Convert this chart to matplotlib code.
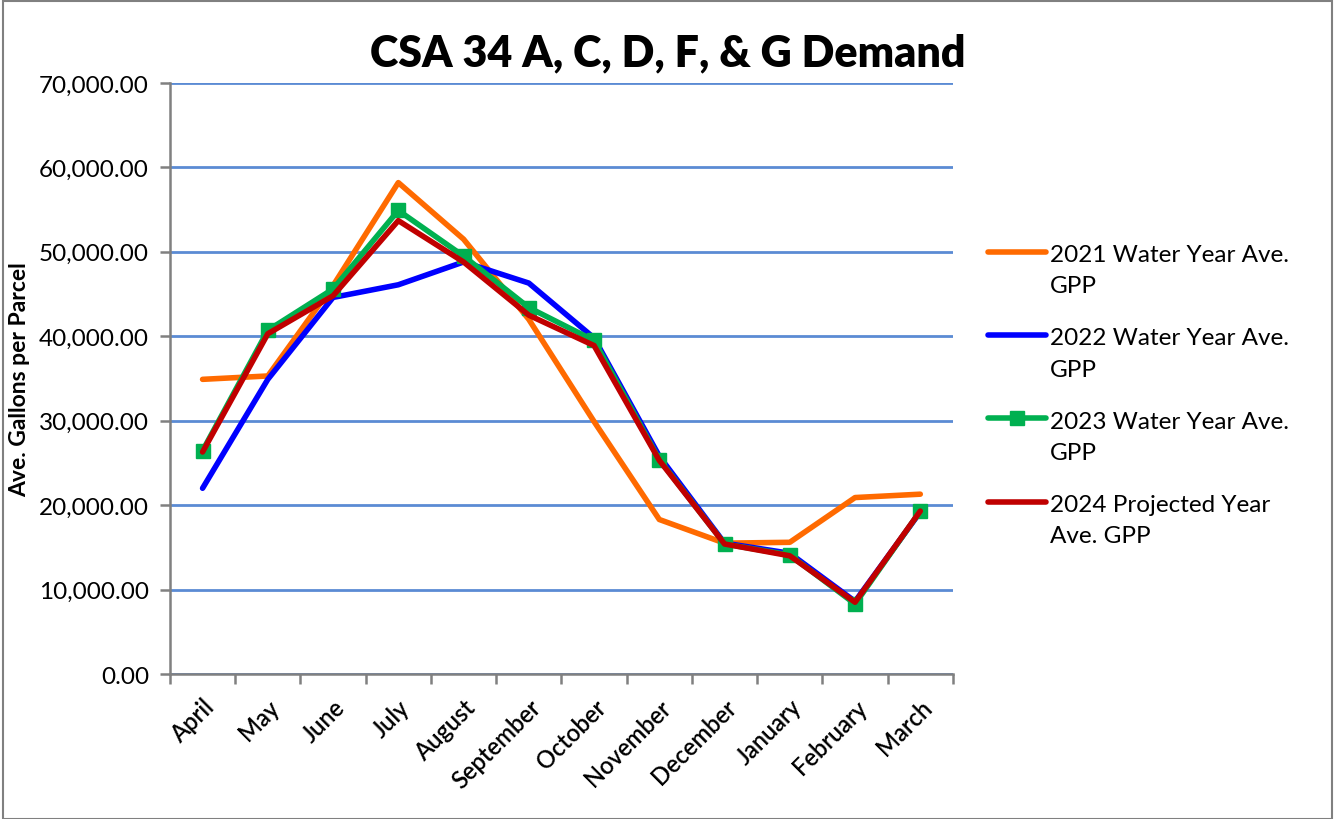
import numpy as np
import matplotlib
matplotlib.use("Agg")
import matplotlib.pyplot as plt
from matplotlib.patches import Rectangle
from matplotlib.ticker import FuncFormatter, MultipleLocator, FixedLocator
from matplotlib.legend_handler import HandlerLine2D

# --- Data ---
months = ["April", "May", "June", "July", "August", "September", "October",
          "November", "December", "January", "February", "March"]

gpp_2021 = [34900, 35300, 46000, 58200, 51500, 42000, 29900,
            18300, 15500, 15600, 20900, 21300]
gpp_2022 = [22000, 34900, 44600, 46100, 48800, 46300, 39800,
            25800, 15500, 14300, 8600, 19200]
gpp_2023 = [26450, 40700, 45600, 54900, 49500, 43400, 39500,
            25400, 15400, 14100, 8300, 19300]
gpp_2024 = [26300, 40300, 44800, 53700, 48800, 42500, 38900,
            25300, 15400, 14000, 8500, 19300]

labels = ["2021 Water Year Ave.\nGPP", "2022 Water Year Ave.\nGPP",
          "2023 Water Year Ave.\nGPP", "2024 Projected Year\nAve. GPP"]


# legend handle sitting level with the first text line (Excel style)
class FirstLineHandler(HandlerLine2D):
    def create_artists(self, legend, orig_handle, xdescent, ydescent,
                       width, height, fontsize, trans):
        artists = super().create_artists(legend, orig_handle, xdescent, ydescent,
                                         width, height, fontsize, trans)
        shift = fontsize * 0.76
        for a in artists:
            a.set_ydata(np.asarray(a.get_ydata()) + shift)
        return artists


plt.rcParams["font.family"] = ["Lato", "DejaVu Sans"]

fig = plt.figure(figsize=(13.35, 8.20), dpi=100)
ax = fig.add_axes([0.1273, 0.1768, 0.5865, 0.7208])

x = np.arange(len(months))

ax.plot(x, gpp_2021, color="#FF6A00", lw=4.0, solid_capstyle="round", zorder=3)
ax.plot(x, gpp_2022, color="#0000FF", lw=4.0, solid_capstyle="round", zorder=4)
ax.plot(x, gpp_2023, color="#00B050", lw=4.0, marker="s", markersize=10,
        solid_capstyle="round", zorder=5)
ax.plot(x, gpp_2024, color="#C00000", lw=4.0, solid_capstyle="round", zorder=6)

# axes limits / grid
ax.set_xlim(-0.5, len(months) - 0.5)
ax.set_ylim(0, 70000)
ax.yaxis.set_major_locator(MultipleLocator(10000))
ax.yaxis.set_major_formatter(FuncFormatter(lambda v, p: f"{v:,.2f}"))
ax.grid(axis="y", color="#5B8BD4", lw=2)
ax.set_axisbelow(True)

for side in ["top", "right"]:
    ax.spines[side].set_visible(False)
for side in ["left", "bottom"]:
    ax.spines[side].set_color("#808080")
    ax.spines[side].set_linewidth(1.8)

# category ticks at the boundaries, labels at the centres
ax.xaxis.set_major_locator(FixedLocator(x))
ax.xaxis.set_minor_locator(FixedLocator(np.arange(-0.5, len(months), 1)))
ax.tick_params(axis="x", which="major", length=0, pad=15)
ax.tick_params(axis="x", which="minor", length=7, width=1.8, color="#808080")
ax.tick_params(axis="y", length=7, width=1.8, color="#808080", labelsize=17.5, pad=8)
ax.set_xticklabels(months, rotation=45, ha="right", va="top",
                   rotation_mode="anchor", fontsize=17, fontweight="semibold")

ax.set_ylabel("Ave. Gallons per Parcel", fontsize=16.5, fontweight="bold")
ax.yaxis.set_label_coords(-0.178, 0.499)

fig.text(0.5, 0.935, "CSA 34 A, C, D, F, & G Demand", ha="center", va="center",
         fontsize=31, fontweight="heavy")

handles = ax.get_lines()
leg = fig.legend(handles, labels, loc="upper left", bbox_to_anchor=(0.731, 0.716),
                 frameon=False, fontsize=17.5, handlelength=2.4, handletextpad=0.15,
                 labelspacing=1.28, borderpad=0,
                 handler_map={h: FirstLineHandler() for h in handles})
for t in leg.get_texts():
    t.set_linespacing(1.6)

# outer frame of the chart
fig.patches.append(Rectangle((0.002, 0.0), 0.996, 0.997, transform=fig.transFigure,
                             fill=False, edgecolor="#808080", lw=1.5))

fig.savefig("out.png", dpi=100)
